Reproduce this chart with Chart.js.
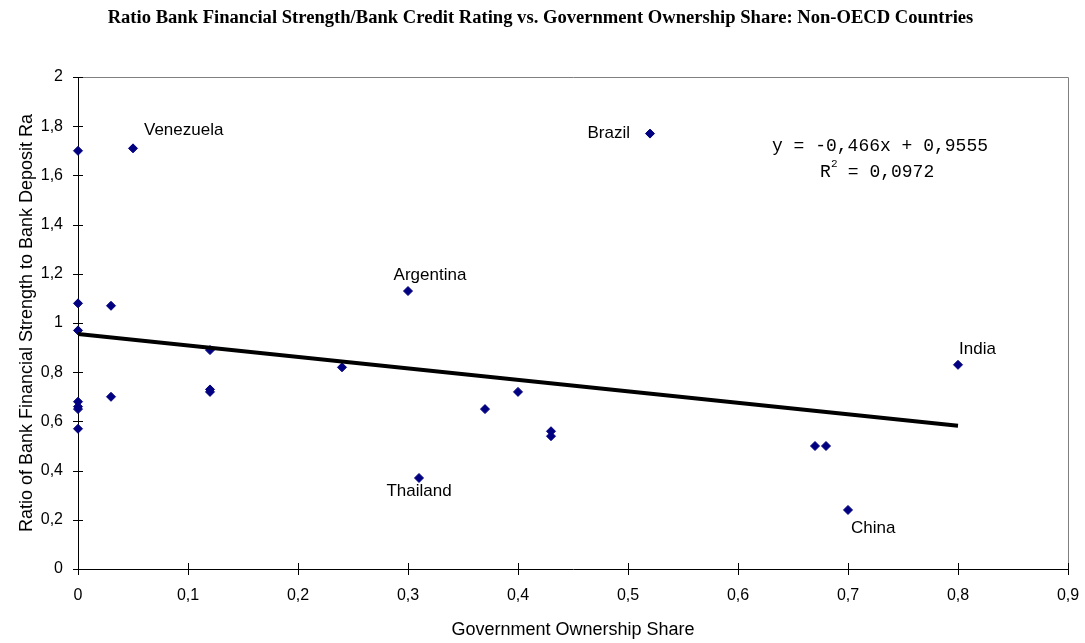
<!DOCTYPE html>
<html>
<head>
<meta charset="utf-8">
<script src="https://cdn.jsdelivr.net/npm/chart.js@4.4.1/dist/chart.umd.min.js"></script>
<style>
  body { margin: 0; background: #fff; }
  canvas { display: block; }
</style>
</head>
<body>
<canvas id="chart" width="1085" height="643"></canvas>
<script>
// values
const ownership = [0, 0.05, 0.52, 0.30, 0, 0.03, 0, 0.12, 0.24, 0.80, 0.12, 0.12, 0.03, 0.40, 0.37, 0.43, 0.43, 0, 0, 0, 0, 0.67, 0.68, 0.70, 0.31];
const ratio = [1.70, 1.71, 1.77, 1.13, 1.08, 1.07, 0.97, 0.89, 0.82, 0.83, 0.72, 0.73, 0.70, 0.72, 0.65, 0.56, 0.54, 0.68, 0.66, 0.65, 0.57, 0.50, 0.50, 0.24, 0.37];
const countries = ['', 'Venezuela', 'Brazil', 'Argentina', '', '', '', '', '', 'India', '', '', '', '', '', '', '', '', '', '', '', '', '', 'China', 'Thailand'];
const slope = -0.466;
const intercept = 0.9555;
const trendRange = [0, 0.8];

// where each country name sits relative to its marker
const labelPos = {
  Venezuela: { dx: 11, dy: -18, align: 'left' },
  Brazil: { dx: -20, dy: 0, align: 'right' },
  Argentina: { dx: 22, dy: -16, align: 'center' },
  Thailand: { dx: 0, dy: 13, align: 'center' },
  India: { dx: 1, dy: -16, align: 'left' },
  China: { dx: 3, dy: 18, align: 'left' },
};

const fmt = (v) => String(Math.round(v * 10) / 10).replace('.', ',');
const SANS = '"Liberation Sans", Arial, sans-serif';
const MONO = '"Liberation Mono", "Courier New", monospace';

function fmtEq(v, d) {
  return v.toFixed(d).replace('.', ',');
}

const decor = {
  id: 'decor',
  beforeDatasetsDraw(chart) {
    const { ctx, chartArea: a, scales: { x, y } } = chart;
    ctx.save();
    ctx.lineWidth = 1;
    ctx.strokeStyle = '#808080';
    ctx.beginPath();
    ctx.moveTo(a.left, Math.round(a.top) + 0.5);
    ctx.lineTo(Math.round(a.right) + 0.5, Math.round(a.top) + 0.5);
    ctx.lineTo(Math.round(a.right) + 0.5, a.bottom);
    ctx.stroke();
    ctx.strokeStyle = '#000';
    ctx.beginPath();
    x.ticks.forEach((t) => {
      const px = Math.round(x.getPixelForValue(t.value)) + 0.5;
      ctx.moveTo(px, a.bottom - 6);
      ctx.lineTo(px, a.bottom + 6);
    });
    y.ticks.forEach((t) => {
      const py = Math.round(y.getPixelForValue(t.value)) + 0.5;
      ctx.moveTo(a.left - 5, py);
      ctx.lineTo(a.left + 5, py);
    });
    ctx.stroke();
    ctx.restore();
  },
  afterDatasetsDraw(chart) {
    const { ctx, chartArea: a } = chart;
    const meta = chart.getDatasetMeta(1);
    ctx.save();
    ctx.fillStyle = '#000';
    ctx.font = '17px ' + SANS;
    ctx.textBaseline = 'middle';
    meta.data.forEach((pt, i) => {
      const name = countries[i];
      if (!name) return;
      const p = labelPos[name];
      ctx.textAlign = p.align;
      ctx.fillText(name, pt.x + p.dx, pt.y + p.dy);
    });

    // trend line equation
    ctx.font = '18px ' + MONO;
    ctx.textAlign = 'center';
    ctx.fillText('y = ' + fmtEq(slope, 3) + 'x + ' + fmtEq(intercept, 4), a.right - 188, a.top + 69);
    ctx.textAlign = 'left';
    const lx = a.right - 248, ly = a.top + 95;
    ctx.fillText('R', lx, ly);
    ctx.font = '11px ' + MONO;
    ctx.fillText('2', lx + 11, ly - 8);
    ctx.font = '18px ' + MONO;
    ctx.fillText(' = 0,0972', lx + 17, ly);
    ctx.restore();
  }
};

new Chart(document.getElementById('chart'), {
  type: 'scatter',
  data: {
    datasets: [
      {
        type: 'line',
        data: trendRange.map((v) => ({ x: v, y: intercept + slope * v })),
        borderColor: '#000',
        borderWidth: 4,
        pointRadius: 0,
        fill: false,
      },
      {
        data: ownership.map((v, i) => ({ x: v, y: ratio[i] })),
        pointStyle: 'rectRot',
        pointRadius: 4.5,
        pointHoverRadius: 4.5,
        backgroundColor: '#000080',
        borderColor: '#000080',
        borderWidth: 1,
        clip: false,
      },
    ],
  },
  options: {
    responsive: false,
    animation: false,
    devicePixelRatio: 1,
    layout: { padding: { left: 13, right: 17, top: 0, bottom: 0 } },
    plugins: {
      legend: { display: false },
      tooltip: { enabled: false },
      title: {
        display: true,
        text: 'Ratio Bank Financial Strength/Bank Credit Rating vs. Government Ownership Share: Non-OECD Countries',
        color: '#000',
        font: { family: '"Liberation Serif", "Times New Roman", serif', size: 18.6, weight: 'bold' },
        padding: { top: 7, bottom: 47.7 },
      },
    },
    scales: {
      x: {
        type: 'linear',
        min: 0,
        max: 0.9,
        ticks: { stepSize: 0.1, padding: 5, color: '#000', font: { family: SANS, size: 16 }, callback: fmt },
        grid: { display: false, drawTicks: true, tickLength: 12, tickColor: 'rgba(0,0,0,0)' },
        border: { color: '#000', width: 1 },
        title: { display: true, text: 'Government Ownership Share', color: '#000', font: { family: SANS, size: 18 }, padding: { top: 4, bottom: 2 } },
        afterFit: (s) => { s.height = 74; },
      },
      y: {
        min: 0,
        max: 2,
        ticks: { stepSize: 0.2, padding: 15, color: '#000', font: { family: SANS, size: 16 }, callback: fmt },
        grid: { display: false, drawTicks: false },
        border: { color: '#000', width: 1 },
        title: { display: true, text: 'Ratio of Bank Financial Strength to Bank Deposit Ra', color: '#000', font: { family: SANS, size: 18 }, padding: { top: 3, bottom: 4 } },
        afterFit: (s) => { s.width = 65; },
      },
    },
  },
  plugins: [decor],
});
</script>
</body>
</html>
